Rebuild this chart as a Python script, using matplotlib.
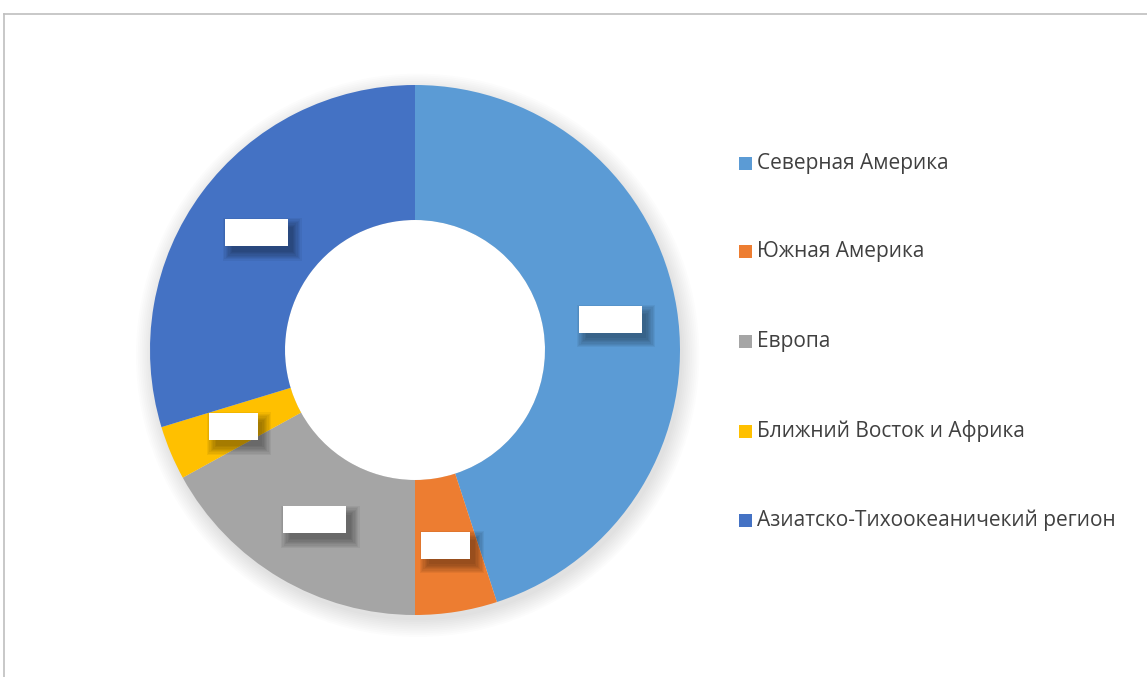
import numpy as np
import matplotlib
matplotlib.use("Agg")
import matplotlib.pyplot as plt
from matplotlib.patches import Rectangle, Circle
from matplotlib.lines import Line2D

categories = ["Северная Америка", "Южная Америка", "Европа",
              "Ближний Восток и Африка", "Азиатско-Тихоокеаничекий регион"]
values = [45, 5, 17, 3.3, 29.7]
colors = ["#5B9BD5", "#ED7D31", "#A5A5A5", "#FFC000", "#4472C4"]
label_box_w_px = [63, 49, 63, 49, 63]

W, H = 1147, 677
fig = plt.figure(figsize=(W / 100, H / 100), dpi=100)
fig.patch.set_facecolor("white")

cx, cy, R = 415, 350, 265
ax = fig.add_axes([(cx - R) / W, (H - cy - R) / H, 2 * R / W, 2 * R / H])

inner_frac = 130 / R
wedges, _ = ax.pie(values, colors=colors, startangle=90, counterclock=False,
                   radius=1.0, wedgeprops=dict(width=1 - inner_frac,
                                               edgecolor="none", linewidth=0))
ax.set_xlim(-1, 1)
ax.set_ylim(-1, 1)
ax.set_aspect("equal")
ax.axis("off")
for w in wedges:
    w.set_zorder(2)

# soft outer shadow
for k in range(10):
    c = Circle((0.01, -0.02), 1.0 + 0.007 * k, color="black",
               alpha=0.01, zorder=0, lw=0)
    c.set_clip_on(False)
    ax.add_patch(c)
ax.add_patch(Circle((0, 0), inner_frac, color="white", zorder=1, lw=0))

# data label boxes (blank white boxes with shadow)
px = 1.0 / R
mid_r = (1.0 + inner_frac) / 2
for w, bw in zip(wedges, label_box_w_px):
    ang = np.deg2rad((w.theta1 + w.theta2) / 2)
    x, y = mid_r * np.cos(ang), mid_r * np.sin(ang)
    bw_d, bh_d = bw * px, 27 * px
    for k in range(8):
        e = (k - 1) * 1.3 * px
        ax.add_patch(Rectangle((x - bw_d / 2 + 6 * px - e, y - bh_d / 2 - 7 * px - e),
                               bw_d + 2 * e, bh_d + 2 * e, color="black",
                               alpha=0.05, lw=0, zorder=3))
    ax.add_patch(Rectangle((x - bw_d / 2, y - bh_d / 2), bw_d, bh_d,
                           facecolor="white", edgecolor="none", zorder=4))

# legend
ys = [163, 252, 341, 431, 520]
for lab, col, yy in zip(categories, colors, ys):
    fig.add_artist(Rectangle((739 / W, (H - yy - 6.5) / H), 13 / W, 13 / H,
                             transform=fig.transFigure, facecolor=col,
                             edgecolor="none"))
    fig.text(757 / W, (H - yy) / H, lab, fontsize=15, color="#404040",
             family="Open Sans", va="center", ha="left")

# chart border
fig.add_artist(Line2D([4 / W, 1.0], [(H - 14) / H] * 2, transform=fig.transFigure,
                      color="#BFBFBF", lw=1.2))
fig.add_artist(Line2D([4 / W] * 2, [0, (H - 14) / H], transform=fig.transFigure,
                      color="#BFBFBF", lw=1.2))

fig.savefig("out.png", dpi=100, facecolor="white")
